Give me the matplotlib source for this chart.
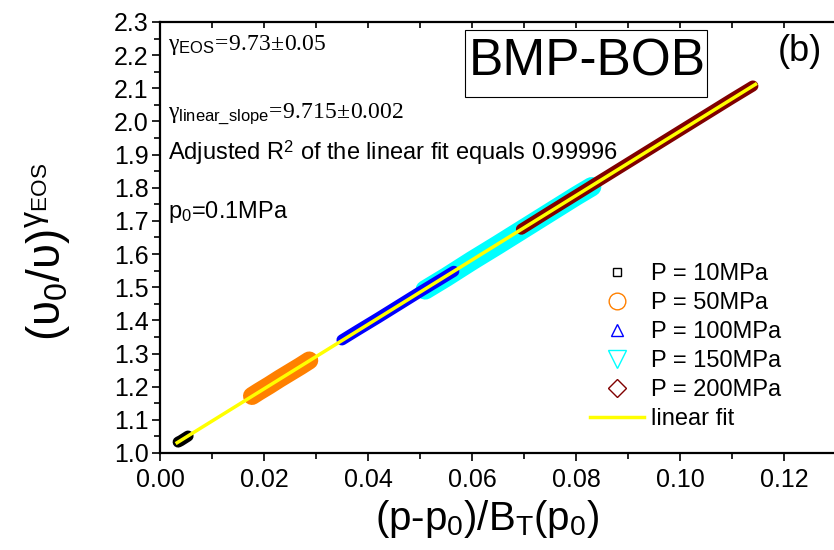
import matplotlib
matplotlib.use('Agg')
import matplotlib.pyplot as plt
from matplotlib.lines import Line2D
from matplotlib.patches import Rectangle
from matplotlib.ticker import MultipleLocator, FormatStrFormatter

plt.rcParams['font.family'] = ['Liberation Sans', 'DejaVu Sans']
plt.rcParams['mathtext.fontset'] = 'custom'
plt.rcParams['mathtext.rm'] = 'Liberation Serif'
plt.rcParams['mathtext.it'] = 'Liberation Serif'
plt.rcParams['mathtext.sf'] = 'Liberation Sans'

# --- data ---
p10_x = [0.0035, 0.0040, 0.0045, 0.0050, 0.0054]
p10_y = [1.033, 1.037, 1.042, 1.047, 1.051]

p50_x = [0.0177, 0.019, 0.021, 0.023, 0.025, 0.027, 0.0287]
p50_y = [1.172, 1.185, 1.204, 1.224, 1.243, 1.262, 1.279]

p100_x = [0.0350, 0.038, 0.042, 0.046, 0.050, 0.054, 0.0565]
p100_y = [1.341, 1.370, 1.408, 1.447, 1.486, 1.524, 1.548]

p150_x = [0.0510, 0.055, 0.060, 0.065, 0.070, 0.075, 0.080, 0.0830]
p150_y = [1.492, 1.530, 1.580, 1.628, 1.677, 1.726, 1.775, 1.803]

p200_x = [0.0695, 0.075, 0.082, 0.089, 0.096, 0.103, 0.110, 0.1140]
p200_y = [1.675, 1.729, 1.797, 1.865, 1.933, 2.001, 2.069, 2.107]

fit_x = [0.0033, 0.1145]
fit_y = [1.031, 2.112]

labels = ['P = 10MPa', 'P = 50MPa', 'P = 100MPa', 'P = 150MPa', 'P = 200MPa']
colors = ['black', '#FF8000', '#0000FF', '#00FFFF', '#800000']
markers = ['s', 'o', '^', 'v', 'D']
band_w = [8, 13, 8, 14, 8]
zord = [3, 3, 3, 2, 3]

fig = plt.figure(figsize=(8.34, 5.50), dpi=100)
ax = fig.add_axes([0.1918, 0.1764, 0.8082, 0.7836])

series = [(p10_x, p10_y), (p50_x, p50_y), (p100_x, p100_y),
          (p150_x, p150_y), (p200_x, p200_y)]

# dense open markers in the original merge into solid bands
for (xs, ys), c, w, z in zip(series, colors, band_w, zord):
    ax.plot(xs, ys, color=c, lw=w, solid_capstyle='round', zorder=z)

ax.plot(fit_x, fit_y, color='#FFFF00', lw=2.5, zorder=4)

ax.set_xlim(0, 0.1296)
ax.set_ylim(1.0, 2.3)
ax.xaxis.set_major_locator(MultipleLocator(0.02))
ax.xaxis.set_minor_locator(MultipleLocator(0.01))
ax.yaxis.set_major_locator(MultipleLocator(0.1))
ax.yaxis.set_minor_locator(MultipleLocator(0.05))
ax.xaxis.set_major_formatter(FormatStrFormatter('%.2f'))
ax.yaxis.set_major_formatter(FormatStrFormatter('%.1f'))

ax.spines['right'].set_visible(False)
for s in ['left', 'bottom', 'top']:
    ax.spines[s].set_linewidth(1.6)

ax.tick_params(which='both', direction='out', width=1.2, labelsize=18)
ax.tick_params(which='major', length=6)
ax.tick_params(which='minor', length=4)
ax.tick_params(axis='x', which='both', top=True, pad=5)
ax.tick_params(axis='y', pad=2)
# top ticks point inward
for t in ax.xaxis.get_major_ticks() + ax.xaxis.get_minor_ticks():
    t.tick2line.set_marker(matplotlib.lines.TICKDOWN)
    t.tick2line.set_markersize(4)

ax.set_xlabel(r'(p-p$_\mathsf{0}$)/B$_\mathsf{T}$(p$_\mathsf{0}$)', fontsize=29)
ax.xaxis.set_label_coords(0.485, -0.105)
ax.set_ylabel(r'$\mathsf{(\upsilon_0/\upsilon)^{\gamma_{EOS}}}$', fontsize=33)
ax.yaxis.set_label_coords(-0.13, 0.466)

ax.text(0.0015, 2.216, r'$\gamma_{\mathsf{EOS}}\!=\!9.73\!\pm\!0.05$', fontsize=17,
        va='baseline')
ax.text(0.0015, 2.0075, r'$\gamma_{\mathsf{linear\_slope}}\!=\!9.715\!\pm\!0.002$',
        fontsize=17, va='baseline')
ax.text(0.0015, 1.884, r'Adjusted R$^\mathsf{2}$ of the linear fit equals 0.99996',
        fontsize=17, va='baseline')
ax.text(0.0015, 1.709, r'p$_\mathsf{0}$=0.1MPa', fontsize=17, va='baseline')

# label box
ax.add_patch(Rectangle((0.0587, 2.075), 0.0465, 0.202, fill=False, ec='black',
                       lw=0.8, zorder=5))
ax.text(0.0822, 2.178, 'BMP-BOB', fontsize=37, va='center', ha='center', zorder=6)
ax.text(0.1230, 2.210, '(b)', fontsize=26, va='center', ha='center')

handles = [Line2D([0], [0], ls='none', marker=m, mfc='none', mec=c, ms=s, mew=1)
           for m, c, s in zip(markers, colors, [6, 12, 9, 13, 9])]
handles.append(Line2D([0], [0], color='#FFFF00', lw=2.5))
ax.legend(handles, labels + ['linear fit'], loc='upper left',
          bbox_to_anchor=(590 / 834, 1 - 263 / 550), bbox_transform=fig.transFigure,
          frameon=False, fontsize=17, borderpad=0, borderaxespad=0,
          handlelength=2.3, handletextpad=0.3, labelspacing=0.3)

fig.savefig('out.png', dpi=100)
